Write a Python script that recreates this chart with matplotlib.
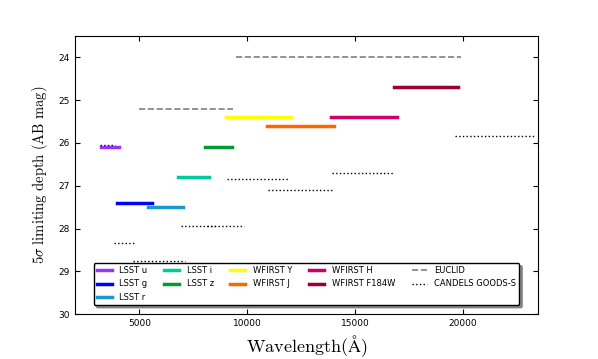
import matplotlib
matplotlib.use("Agg")
import matplotlib.pyplot as plt

# ============================================================
# DATA
# ============================================================

# bandas con color: (nombre, lambda_min, lambda_max, profundidad, color)
band_names = ["LSST u", "LSST g", "LSST r", "LSST i", "LSST z",
              "WFIRST Y", "WFIRST J", "WFIRST H", "WFIRST F184W"]
band_lo = [3200, 3950, 5400, 6800, 8050, 9000, 10900, 13900, 16800]
band_hi = [4050, 5600, 7000, 8250, 9300, 12050, 14050, 16950, 19800]
band_depth = [26.1, 27.4, 27.5, 26.8, 26.1, 25.4, 25.6, 25.4, 24.7]
band_colors = ["#9933ff", "#0000ff", "#1a99d0", "#00cc99", "#009933",
               "#ffff00", "#ff6600", "#cc0066", "#990033"]

# EUCLID (discontinua)
euclid_lo = [5000, 9500]
euclid_hi = [9350, 19900]
euclid_depth = [25.2, 24.0]

# CANDELS GOODS-S (punteada)
candels_lo = [3150, 3800, 4700, 6950, 8150, 9050, 10950, 13950, 19650]
candels_hi = [3850, 4800, 7100, 8500, 9850, 11900, 13950, 16800, 23300]
candels_depth = [26.05, 28.35, 28.75, 27.95, 27.95, 26.85, 27.1, 26.7, 25.85]


# ============================================================
# ESTILO
# ============================================================

plt.rcParams["xtick.direction"] = "in"
plt.rcParams["ytick.direction"] = "in"
plt.rcParams["xtick.top"] = True
plt.rcParams["ytick.right"] = True
plt.rcParams["xtick.labelsize"] = 6.5
plt.rcParams["ytick.labelsize"] = 6.5
plt.rcParams["mathtext.fontset"] = "cm"


# ============================================================
# FIGURA
# ============================================================

fig = plt.figure(figsize=(5.98, 3.59), dpi=100)
ax = fig.add_axes([0.125, 0.125, 0.775, 0.775])

for name, lo, hi, depth, color in zip(band_names, band_lo, band_hi,
                                      band_depth, band_colors):
    ax.plot([lo, hi], [depth, depth], color=color, lw=2.5, label=name)

for i, (lo, hi, depth) in enumerate(zip(euclid_lo, euclid_hi, euclid_depth)):
    ax.plot([lo, hi], [depth, depth], color="gray", lw=1.2, ls="--",
            label="EUCLID" if i == 0 else None)

for i, (lo, hi, depth) in enumerate(zip(candels_lo, candels_hi, candels_depth)):
    ax.plot([lo, hi], [depth, depth], color="black", lw=1.0, ls=":",
            label="CANDELS GOODS-S" if i == 0 else None)

ax.set_xlim(2000, 23500)
ax.set_ylim(30, 23.5)
ax.set_xticks([5000, 10000, 15000, 20000])
ax.set_yticks([24, 25, 26, 27, 28, 29, 30])

ax.set_xlabel(r"$\mathrm{Wavelength}(\mathrm{\AA})$", fontsize=13)
ax.set_ylabel(r"$5\sigma\ \mathrm{limiting\ depth\ (AB\ mag)}$", fontsize=10.5,
              labelpad=6)

leg = ax.legend(loc="lower center", ncol=5, fontsize=6,
                shadow={"color": "0.45", "alpha": 0.8},
                fancybox=True, handlelength=1.8, handletextpad=0.9,
                columnspacing=2.0, labelspacing=0.5, borderaxespad=1.1)
leg.get_frame().set_edgecolor("black")
leg.get_frame().set_alpha(1)

fig.savefig("out.png", dpi=100)
